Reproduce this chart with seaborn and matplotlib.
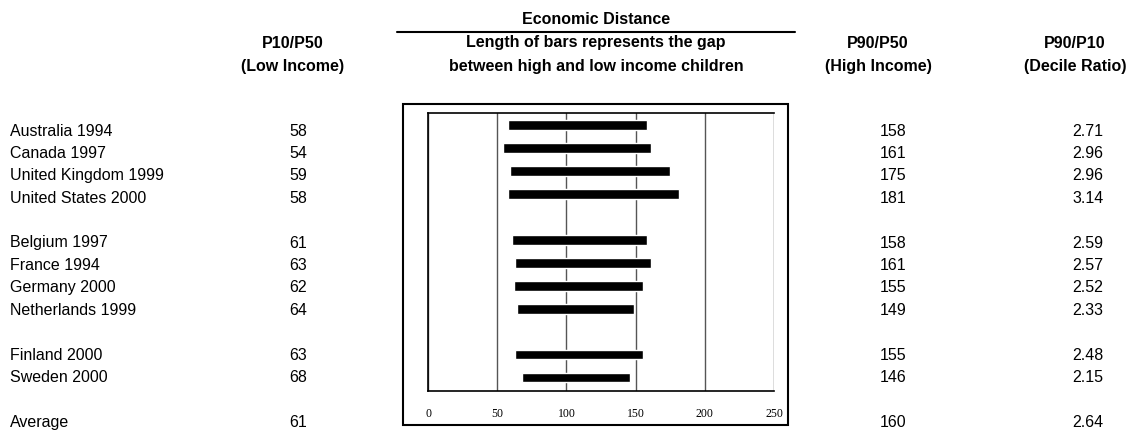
import matplotlib
matplotlib.use("Agg")
import matplotlib.pyplot as plt
from matplotlib.patches import Rectangle
from matplotlib.lines import Line2D
import seaborn as sns
import pandas as pd

countries = ["Australia 1994", "Canada 1997", "United Kingdom 1999", "United States 2000",
             "Belgium 1997", "France 1994", "Germany 2000", "Netherlands 1999",
             "Finland 2000", "Sweden 2000"]
group = [0, 0, 0, 0, 1, 1, 1, 1, 2, 2]
p10 = [58, 54, 59, 58, 61, 63, 62, 64, 63, 68]
p90 = [158, 161, 175, 181, 158, 161, 155, 149, 155, 146]
ratio = [2.71, 2.96, 2.96, 3.14, 2.59, 2.57, 2.52, 2.33, 2.48, 2.15]
avg_label = "Average"
avg_p10, avg_p90, avg_ratio = 61, 160, 2.64
x_ticks = [0, 50, 100, 150, 200, 250]

df = pd.DataFrame({"country": countries, "group": group, "p10": p10, "p90": p90, "ratio": ratio})
df["slot"] = df.index + df["group"]
avg_slot = df["slot"].max() + 2

sns.set_style("white")
plt.rcParams["font.family"] = ["Liberation Sans", "DejaVu Sans"]
plt.rcParams["text.color"] = "black"
plt.rcParams["xtick.color"] = "black"

W, H = 1132, 432
fig = plt.figure(figsize=(W / 100, H / 100), dpi=100)


def fx(px):
    return px / W


def fy(py):
    return 1 - py / H


# the bar panel
ax = fig.add_axes([fx(428), fy(391), (774 - 428) / W, (391 - 113) / H])
ax.barh(df["slot"], df["p90"] - df["p10"], left=df["p10"], height=0.4, color="black", zorder=3)
ax.set_xlim(0, 250)
ax.set_ylim(11.57, -0.52)
ax.set_xticks(x_ticks)
ax.set_xticklabels([str(t) for t in x_ticks], fontfamily="Liberation Serif", fontsize=8.5)
ax.set_yticks([])
ax.tick_params(axis="x", length=0, pad=12)
ax.grid(axis="x", color="#555555", lw=1)
for s in ax.spines.values():
    s.set_color("black")
    s.set_linewidth(1.2)
ax.spines["right"].set_visible(False)

# outer chart box
fig.add_artist(Rectangle((fx(403), fy(425)), (788 - 403) / W, (425 - 104) / H,
                         transform=fig.transFigure, fill=False, ec="black", lw=1.5))

# table text
fs = 11.5
row_y = lambda slot: fy(131 + 22.4 * slot)
for _, r in df.iterrows():
    y = row_y(r["slot"])
    fig.text(fx(10), y, r["country"], ha="left", va="center", fontsize=fs)
    fig.text(fx(298), y, f"{r['p10']:.0f}", ha="center", va="center", fontsize=fs)
    fig.text(fx(893), y, f"{r['p90']:.0f}", ha="center", va="center", fontsize=fs)
    fig.text(fx(1088), y, f"{r['ratio']:.2f}", ha="center", va="center", fontsize=fs)
y = row_y(avg_slot)
fig.text(fx(10), y, avg_label, ha="left", va="center", fontsize=fs)
fig.text(fx(298), y, f"{avg_p10}", ha="center", va="center", fontsize=fs)
fig.text(fx(893), y, f"{avg_p90}", ha="center", va="center", fontsize=fs)
fig.text(fx(1088), y, f"{avg_ratio:.2f}", ha="center", va="center", fontsize=fs)

# headers
hdr = dict(ha="center", va="center", fontsize=fs, fontweight="bold")
fig.text(fx(293), fy(43), "P10/P50", **hdr)
fig.text(fx(293), fy(66), "(Low Income)", **hdr)
fig.text(fx(596), fy(20), "Economic Distance", **hdr)
fig.text(fx(596), fy(43), "Length of bars represents the gap", **hdr)
fig.text(fx(596), fy(66), "between high and low income children", **hdr)
fig.text(fx(878), fy(43), "P90/P50", **hdr)
fig.text(fx(878), fy(66), "(High Income)", **hdr)
fig.text(fx(1075), fy(43), "P90/P10", **hdr)
fig.text(fx(1075), fy(66), "(Decile Ratio)", **hdr)
fig.add_artist(Line2D([fx(397), fx(795)], [fy(32), fy(32)], transform=fig.transFigure,
                      color="black", lw=1.5))

fig.savefig("out.png", dpi=100)
